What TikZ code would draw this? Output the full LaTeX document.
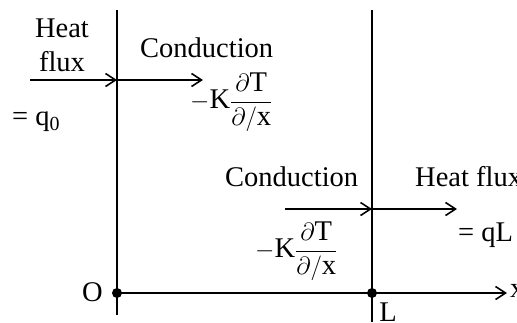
\documentclass[tikz,border=0pt]{standalone}
\usepackage{fontspec}
\setmainfont{Liberation Serif}
\usetikzlibrary{arrows.meta}

\begin{document}
\begin{tikzpicture}[
    x=1pt, y=-1pt,
    every node/.style={font=\fontsize{28.5}{34}\selectfont, inner sep=0pt},
    wall/.style={line width=1.8pt},
    flow/.style={-{Straight Barb[length=10pt,width=13pt,line width=1.6pt]}, line width=1.6pt},
    ]
    \clip (0,0) rectangle (517,322);

    % walls and axis
    \coordinate (o) at (117,293);
    \coordinate (l) at (372,293);
    \coordinate (xend) at (507,293);
    \draw[wall] (117,10) -- (117,315);
    \draw[wall] (372,10) -- (372,322);
    \draw[flow] (o) -- (xend);
    \fill (o) circle (5);
    \fill (l) circle (5);
    \node[anchor=east] (olbl) at (103,292) {O};
    \node (llbl) at (388,312) {L};
    \node[anchor=west] (xlbl) at (510,291) {x};

    % face x = 0
    \coordinate (in0) at (30,80);
    \coordinate (w0) at (117,80);
    \coordinate (out0) at (203,80);
    \draw[flow] (in0) -- (w0);
    \draw[flow] (w0) -- (out0);
    \node[align=center] (flux0) at (62,45) {Heat\\flux};
    \node[anchor=west] (q0) at (12,122) {= q\textsubscript{0}};
    \node[anchor=west] (cond0) at (140,48) {Conduction};
    \node[anchor=west] (grad0) at (190,102)
        {$-$K$\displaystyle\frac{\partial\mbox{T}}{\partial/\mbox{x}}$};

    % face x = L
    \coordinate (inL) at (285,209);
    \coordinate (wL) at (372,209);
    \coordinate (outL) at (457,209);
    \draw[flow] (inL) -- (wL);
    \draw[flow] (wL) -- (outL);
    \node[anchor=west] (condL) at (225,177) {Conduction};
    \node[anchor=west] (fluxL) at (415,177) {Heat flux};
    \node[anchor=west] (qL) at (458,235) {= qL};
    \node[anchor=west] (gradL) at (255,251)
        {$-$K$\displaystyle\frac{\partial\mbox{T}}{\partial/\mbox{x}}$};

\end{tikzpicture}
\end{document}
